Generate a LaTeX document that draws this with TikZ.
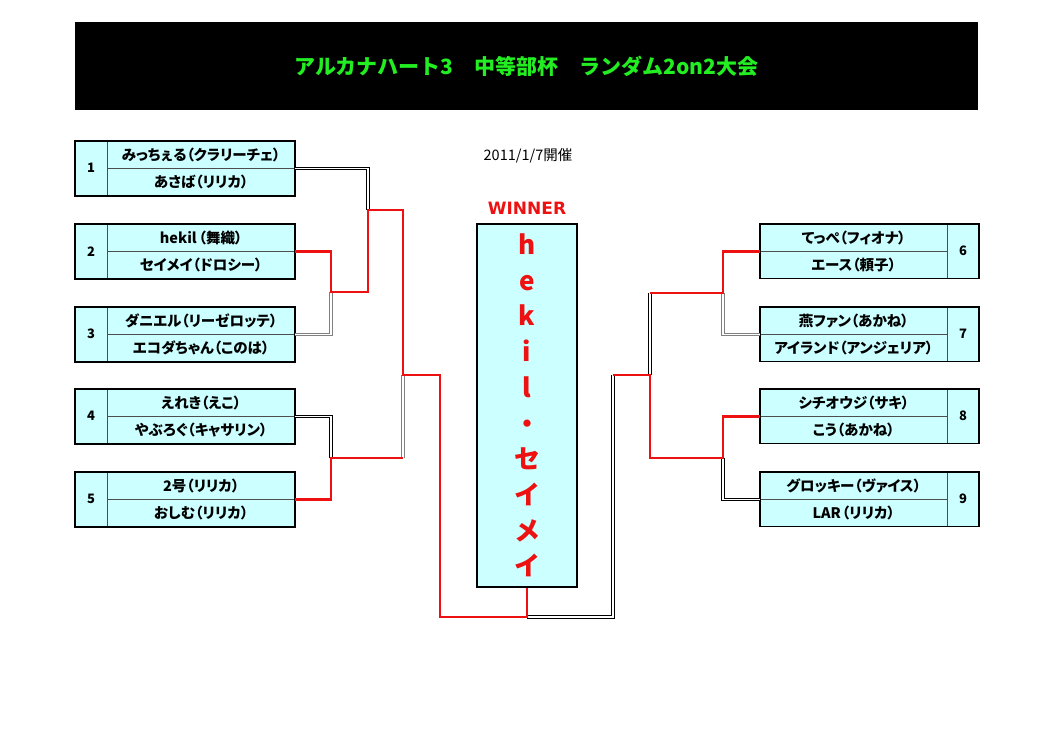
\documentclass[tikz,border=0pt]{standalone}
\usepackage{fontspec}
\setmainfont{Noto Sans CJK JP}
\newfontfamily\winfont{DejaVu Sans}
\newfontfamily\namefont[RawFeature=+palt]{Noto Sans CJK JP}
\usetikzlibrary{positioning}
\definecolor{celeste}{HTML}{CCFFFF}
\definecolor{rojo}{HTML}{EE1111}
\definecolor{verde}{HTML}{22EE22}
\definecolor{gris}{HTML}{808080}

\begin{document}
\begin{tikzpicture}[x=1pt, y=-1pt,
  numcell/.style={draw=gris!60!black, fill=celeste, minimum width=32pt,
    minimum height=54pt, inner sep=0pt, font=\bfseries\fontsize{13}{13}\selectfont},
  namecell/.style={draw=gris!60!black, fill=celeste, minimum width=187pt,
    minimum height=27pt, inner sep=0pt, font=\namefont\bfseries\fontsize{14.5}{14.5}\selectfont},
  frame/.style={draw=black, line width=1.8pt},
  dbl/.style={draw=black, double=white, double distance=1.6pt, line width=0.8pt},
  dblgris/.style={dbl, draw=gris},
  win/.style={draw=rojo, line width=2.8pt}
]
  \useasboundingbox (0,0) rectangle (1053,744);

  % title
  \node[fill=black, minimum width=903pt, minimum height=88pt, text=verde,
    font=\bfseries\fontsize{21}{21}\selectfont] (title) at (526.5,66)
    {アルカナハート3　中等部杯　ランダム2on2大会};
  \node[font=\fontsize{14.5}{14.5}\selectfont] (date) at (528,156) {2011/1/7開催};

  % left side
  \foreach \n/\y/\a/\b in {1/141/みっちぇる（クラリーチェ）/あさば（リリカ）,
    2/224/hekil\hspace{2pt}（舞織）/セイメイ（ドロシー）,
    3/307/ダニエル（リーゼロッテ）/エコダちゃん（このは）,
    4/389/えれき（えこ）/やぶろぐ（キャサリン）,
    5/472/2号（リリカ）/おしむ（リリカ）}{
    \node[numcell, anchor=north west] (n\n) at (75,\y) {\n};
    \node[namecell, anchor=north west] (a\n) at (n\n.north east) {\a};
    \node[namecell, anchor=north] (b\n) at (a\n.south) {\b};
    \draw[frame] (n\n.north west) rectangle (b\n.south east);
  }

  % right side
  \foreach \n/\y/\a/\b in {6/224/てっぺ（フィオナ）/エース（頼子）,
    7/307/燕ファン（あかね）/アイランド（アンジェリア）,
    8/389/シチオウジ（サキ）/こう（あかね）,
    9/472/グロッキー（ヴァイス）/LAR\hspace{1pt}（リリカ）}{
    \node[namecell, anchor=north west] (a\n) at (760,\y) {\a};
    \node[namecell, anchor=north] (b\n) at (a\n.south) {\b};
    \node[numcell, anchor=north west, minimum width=31pt] (n\n) at (a\n.north east) {\n};
    \draw[frame] (a\n.north west) rectangle (n\n.south east);
  }

  % winner
  \node[font=\winfont\bfseries\fontsize{17}{17}\selectfont, text=rojo] (winlbl) at (527,208) {WINNER};
  \node[draw=black, line width=1.2pt, fill=celeste, minimum width=100pt,
    minimum height=363pt, text=rojo, align=center,
    font=\bfseries\fontsize{26}{35.7}\selectfont] (champ) at (527,405.5)
    {h\\e\\k\\i\\l\\・\\セ\\イ\\メ\\イ};

  % junctions
  \coordinate (q23) at (331,292);
  \coordinate (s13) at (368,210);
  \coordinate (q45) at (331,458);
  \coordinate (k45) at (403,458);
  \coordinate (sL) at (403,375);
  \coordinate (fL) at (440,617);
  \coordinate (fin) at (champ.south |- fL);
  \coordinate (r67) at (723,293);
  \coordinate (k67) at (650,293);
  \coordinate (r89) at (723,458);
  \coordinate (k89) at (650,458);
  \coordinate (sR) at (650,375);
  \coordinate (fR) at (613,375);
  \coordinate (gR) at (613,617);

  % losers
  \draw[dbl] (a1.south east) -| (s13);
  \draw[dblgris] (a3.south east) -| (q23);
  \draw[dbl] (a4.south east) -| (q45);
  \draw[dblgris] (k45) -- (sL);
  \draw[dblgris] (a7.south west) -| (r67);
  \draw[dbl] (k67) -- (sR);
  \draw[dbl] (a9.south west) -| (r89);
  \draw[dbl] (fR) -- (gR) -- (fin);

  % winners
  \draw[win] (a2.south east) -| (q23) -| (s13) -| (sL) -| (fL) -- (fin) -- (champ.south);
  \draw[win] (a5.south east) -| (q45) -- (k45);
  \draw[win] (a6.south west) -| (r67) -- (k67);
  \draw[win] (a8.south west) -| (r89) -- (k89) -- (sR) -- (fR);
\end{tikzpicture}
\end{document}
